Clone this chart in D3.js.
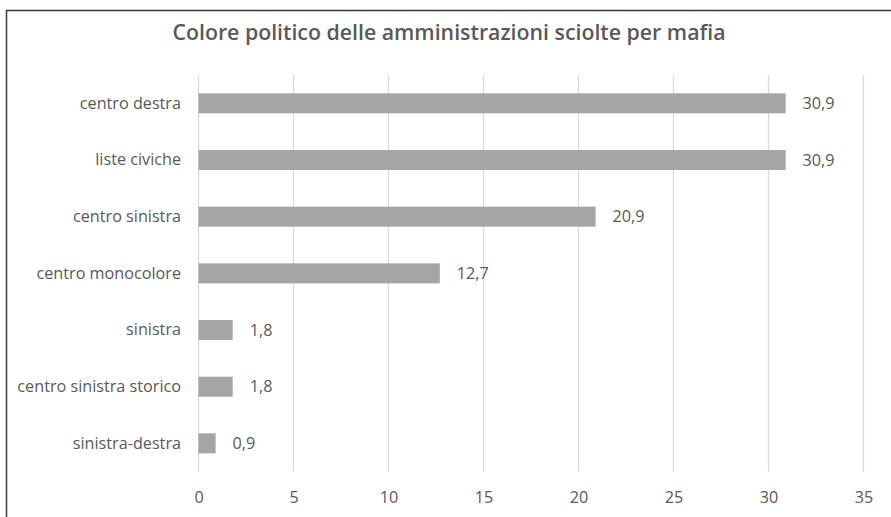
<!DOCTYPE html>
<html><head><meta charset="utf-8">
<script src="https://cdn.jsdelivr.net/npm/d3@7"></script>
<style>html,body{margin:0;padding:0;background:#fff;}svg{display:block;}</style>
</head><body>
<svg id="chart" width="891" height="517"></svg>
<script>
const categories = ["centro destra","liste civiche","centro sinistra","centro monocolore","sinistra","centro sinistra storico","sinistra-destra"];
const values = [30.9, 30.9, 20.9, 12.7, 1.8, 1.8, 0.9];
const valueLabels = ["30,9","30,9","20,9","12,7","1,8","1,8","0,9"];
const xTicks = [0,5,10,15,20,25,30,35];
const title = "Colore politico delle amministrazioni sciolte per mafia";

const svg = d3.select("#chart");
const font = "'Open Sans', 'Noto Sans', sans-serif";
const textColor = "#595959";
const fs = "16.2px";

svg.append("rect").attr("width",891).attr("height",517).attr("fill","#fff");
// frame (top and left edges visible)
svg.append("path").attr("d","M6.5,517 L6.5,10.5 L891,10.5").attr("fill","none").attr("stroke","#3a3a3a").attr("stroke-width",1.5);

const x = d3.scaleLinear().domain([0,35]).range([198.5,863.5]);
const y = d3.scaleBand().domain(categories).range([75,471.7]).paddingInner(0.647).paddingOuter(0.3235);

// gridlines
svg.append("g").selectAll("line").data(xTicks).join("line")
  .attr("x1",d=>x(d)).attr("x2",d=>x(d)).attr("y1",75).attr("y2",471.7)
  .attr("stroke","#d9d9d9").attr("stroke-width",1.3);

// x axis tick labels
const xAxis = d3.axisBottom(x).tickValues(xTicks).tickSize(0).tickPadding(0);
const gx = svg.append("g").attr("transform","translate(0,489)").call(xAxis);
gx.select(".domain").remove();
gx.selectAll("text").attr("fill",textColor).style("font-family",font).style("font-size",fs).attr("dy","0.35em").attr("y",8);

// y axis labels
const yAxis = d3.axisLeft(y).tickSize(0).tickPadding(0);
const gy = svg.append("g").attr("transform","translate(181,0)").call(yAxis);
gy.select(".domain").remove();
gy.selectAll("text").attr("fill",textColor).style("font-family",font).style("font-size",fs);

// bars
svg.append("g").selectAll("rect").data(categories).join("rect")
  .attr("x",x(0)).attr("y",d=>y(d))
  .attr("width",(d,i)=>x(values[i])-x(0)).attr("height",y.bandwidth())
  .attr("fill","#a5a5a5");

// value labels
svg.append("g").selectAll("text").data(categories).join("text")
  .attr("x",(d,i)=>x(values[i])+17).attr("y",d=>y(d)+y.bandwidth()/2)
  .attr("dy","0.35em").attr("fill",textColor)
  .style("font-family",font).style("font-size",fs)
  .text((d,i)=>valueLabels[i]);

// title
svg.append("text").attr("x",449).attr("y",33).attr("dy","0.35em")
  .attr("text-anchor","middle").attr("fill",textColor)
  .style("font-family",font).style("font-size","21.3px").style("font-weight","600")
  .text(title);
</script>
</body></html>
